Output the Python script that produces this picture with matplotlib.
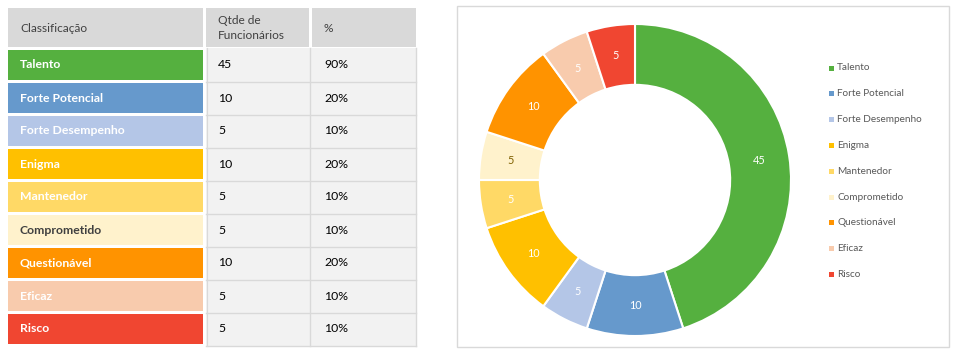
import matplotlib
matplotlib.use("Agg")
import matplotlib.pyplot as plt
from matplotlib.patches import Rectangle
import numpy as np

plt.rcParams['font.family'] = ['Lato', 'DejaVu Sans']

categories = ["Talento", "Forte Potencial", "Forte Desempenho", "Enigma", "Mantenedor",
              "Comprometido", "Questionável", "Eficaz", "Risco"]
counts = [45, 10, 5, 10, 5, 5, 10, 5, 5]
percents = ["90%", "20%", "10%", "20%", "10%", "10%", "20%", "10%", "10%"]
colors = ["#55B03F", "#6699CC", "#B4C6E7", "#FFC000", "#FFD966",
          "#FFF2CC", "#FF9300", "#F8CBAD", "#F04631"]
table_text_colors = ["white", "white", "white", "white", "white",
                     "#404040", "white", "white", "white"]
donut_label_colors = ["white", "white", "white", "white", "white",
                      "#7F6000", "white", "white", "white"]
headers = ["Classificação", "Qtde de\nFuncionários", "%"]

W, H = 959, 361
fig = plt.figure(figsize=(W / 100, H / 100), dpi=100)
fig.patch.set_facecolor("white")

ov = fig.add_axes([0, 0, 1, 1])
ov.set_xlim(0, W)
ov.set_ylim(H, 0)
ov.axis("off")

# ---- table ----
hdr_fill = "#D9D9D9"
ov.add_patch(Rectangle((8, 8), 195, 39, facecolor=hdr_fill, edgecolor="none"))
ov.add_patch(Rectangle((206, 8), 103, 39, facecolor=hdr_fill, edgecolor="none"))
ov.add_patch(Rectangle((312, 8), 104, 39, facecolor=hdr_fill, edgecolor="none"))
hx = [20, 218, 324]
for x, t in zip(hx, headers):
    ov.text(x, 28, t, ha="left", va="center", fontsize=8.6, color="#404040",
            linespacing=1.35)

row_top0, pitch, rh = 50, 33, 30
ov.add_patch(Rectangle((206, 48), 210, 298, facecolor="#F2F2F2", edgecolor="none"))
grid = "#D9D9D9"
for i in range(1, len(categories) + 1):
    y = row_top0 - 1.5 + pitch * i
    ov.plot([206, 416], [y, y], color=grid, lw=1)
ov.plot([310, 310], [48, 346], color=grid, lw=1)
ov.plot([416, 416], [48, 346], color=grid, lw=1)
ov.plot([206.5, 206.5], [48, 346], color=grid, lw=0.8)

for i, (c, n, p, col, tc) in enumerate(zip(categories, counts, percents, colors, table_text_colors)):
    top = row_top0 + pitch * i
    ov.add_patch(Rectangle((8, top), 195, rh, facecolor=col, edgecolor="none"))
    yc = top + rh / 2
    ov.text(20, yc, c, ha="left", va="center", fontsize=8.8, fontweight="bold", color=tc)
    ov.text(218, yc, str(n), ha="left", va="center", fontsize=8.8, color="#000000")
    ov.text(324, yc, p, ha="left", va="center", fontsize=8.8, color="#000000")

# ---- chart area border ----
ov.add_patch(Rectangle((457, 6), 492, 341, facecolor="none", edgecolor="#D9D9D9", lw=1))

# ---- legend ----
leg_y0, leg_pitch = 68, 25.8
for i, (c, col) in enumerate(zip(categories, colors)):
    y = leg_y0 + leg_pitch * i
    ov.add_patch(Rectangle((829, y - 2.5), 5, 5, facecolor=col, edgecolor="none"))
    ov.text(837, y, c, ha="left", va="center", fontsize=7.2, color="#595959")

# ---- donut ----
cx, cy, R = 635, 180, 156
half = 160
ax = fig.add_axes([(cx - half) / W, (H - cy - half) / H, 2 * half / W, 2 * half / H])
ax.set_zorder(2)
ax.patch.set_visible(False)
wedges, _ = ax.pie(counts, colors=colors, startangle=90, counterclock=False,
                   wedgeprops=dict(width=0.39, edgecolor="white", linewidth=1.5))
lim = half / R
ax.set_xlim(-lim, lim)
ax.set_ylim(-lim, lim)
ax.set_aspect("equal")
ax.axis("off")

total = sum(counts)
ang = 90.0
for n, lc in zip(counts, donut_label_colors):
    mid = ang - 360.0 * n / total / 2
    ang -= 360.0 * n / total
    r = 0.805
    ax.text(r * np.cos(np.radians(mid)), r * np.sin(np.radians(mid)), str(n),
            ha="center", va="center", fontsize=7.8, color=lc)

fig.savefig("out.png", dpi=100)
